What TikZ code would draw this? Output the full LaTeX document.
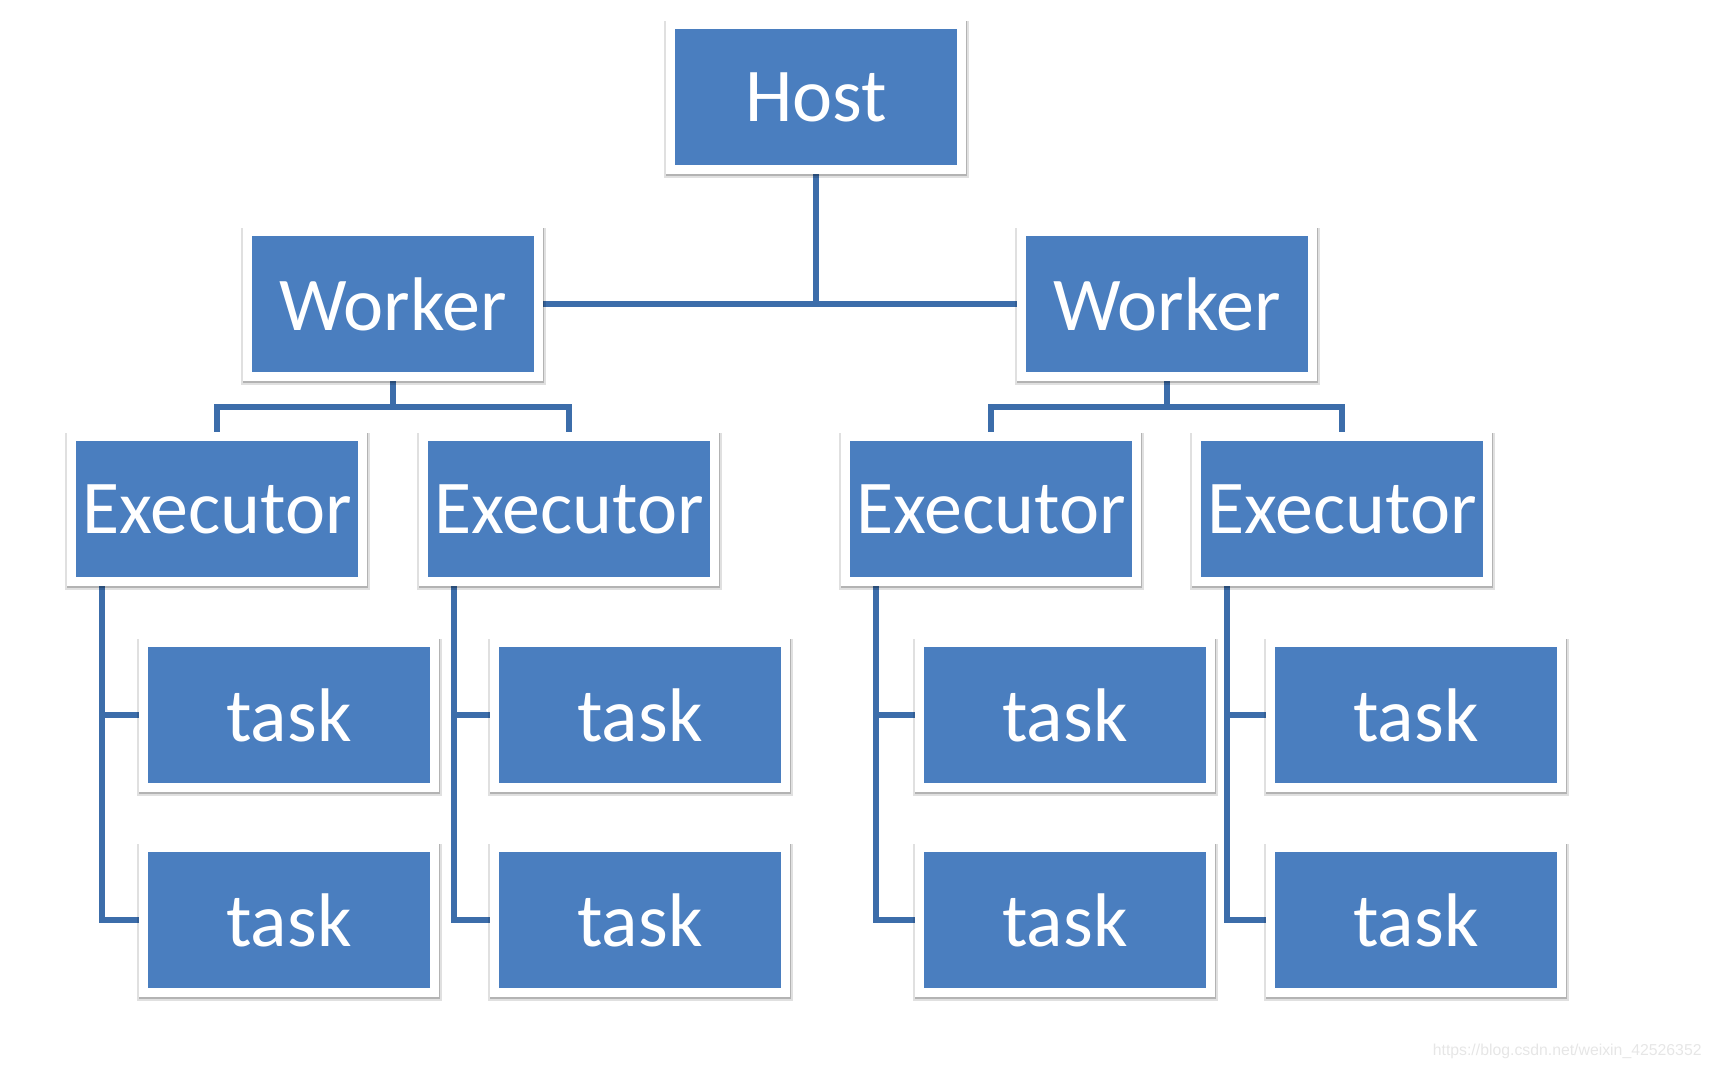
\documentclass[tikz,border=0pt]{standalone}
\usepackage{fontspec}
\setmainfont{Carlito}
\newfontfamily\wmfont{Liberation Sans}
\usetikzlibrary{shadows,backgrounds}
\definecolor{boxblue}{HTML}{4A7EBF}
\definecolor{linkblue}{HTML}{3C6DAA}
\definecolor{wmgray}{HTML}{E6E6E6}

\begin{document}
\begin{tikzpicture}[x=0.5pt, y=-0.5pt, line join=miter,
  box/.style={minimum width=150pt, minimum height=77pt, inner sep=0pt,
    fill=white, text=white, font=\fontsize{38}{40}\selectfont,
    drop shadow={shadow xshift=0.2pt, shadow yshift=-1.2pt, shadow scale=1.015, opacity=0.12, fill=black},
    drop shadow={shadow xshift=0.3pt, shadow yshift=-0.8pt, shadow scale=1.004, opacity=0.2, fill=black},
    path picture={\fill[boxblue] ([shift={(4.5pt,4.5pt)}]path picture bounding box.south west)
      rectangle ([shift={(-4.5pt,-4.5pt)}]path picture bounding box.north east);}},
  link/.style={draw=linkblue, line width=3pt}]

\useasboundingbox (0,0) rectangle (1712,1068);

% radice
\node[box] (host) at (816,97) {Host};

% worker
\node[box] (wl) at (393,304) {Worker};
\node[box] (wr) at (1167,304) {Worker};

% executor
\node[box] (e1) at (217,509) {Executor};
\node[box] (e2) at (569,509) {Executor};
\node[box] (e3) at (991,509) {Executor};
\node[box] (e4) at (1342,509) {Executor};

% task
\node[box] (t11) at (289,715) {task};
\node[box] (t12) at (289,920) {task};
\node[box] (t21) at (640,715) {task};
\node[box] (t22) at (640,920) {task};
\node[box] (t31) at (1065,715) {task};
\node[box] (t32) at (1065,920) {task};
\node[box] (t41) at (1416,715) {task};
\node[box] (t42) at (1416,920) {task};

% punti di snodo
\coordinate (barl) at (393,407);
\coordinate (barr) at (1167,407);

\begin{scope}[on background layer]
% host - worker
\draw[link] (host) -- (host |- wl);
\draw[link] (wl) -- (wr);

% worker - executor
\draw[link] (wl) -- (barl);
\draw[link] (e1) |- (barl) -| (e2);
\draw[link] (wr) -- (barr);
\draw[link] (e3) |- (barr) -| (e4);

% executor - task
\draw[link] ([xshift=17.5pt]e1.west) |- (t11.west);
\draw[link] ([xshift=17.5pt]e1.west) |- (t12.west);
\draw[link] ([xshift=17.5pt]e2.west) |- (t21.west);
\draw[link] ([xshift=17.5pt]e2.west) |- (t22.west);
\draw[link] ([xshift=17.5pt]e3.west) |- (t31.west);
\draw[link] ([xshift=17.5pt]e3.west) |- (t32.west);
\draw[link] ([xshift=17.5pt]e4.west) |- (t41.west);
\draw[link] ([xshift=17.5pt]e4.west) |- (t42.west);
\end{scope}

% filigrana
\node[text=wmgray, font=\wmfont\fontsize{7.9}{9}\selectfont, anchor=base east, inner sep=0pt]
  (wm) at (1702,1055) {https://blog.csdn.net/weixin\_42526352};

\end{tikzpicture}
\end{document}
